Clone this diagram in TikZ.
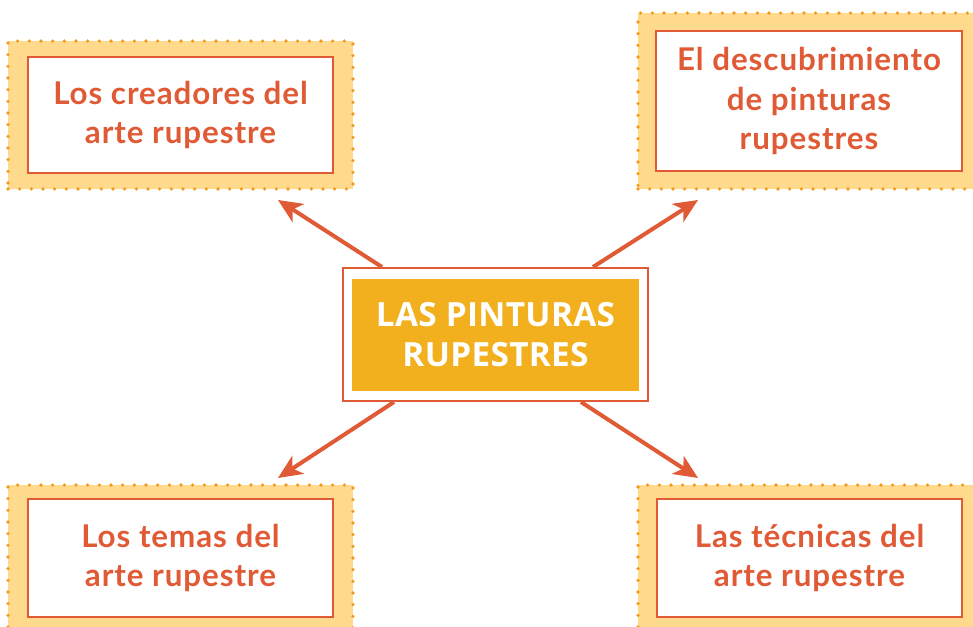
\documentclass[tikz,border=0pt]{standalone}
\usepackage{fontspec}
\setmainfont{Lato}[LetterSpace=3]
\newfontfamily\titlefont{Open Sans}[LetterSpace=1]
\usetikzlibrary{arrows.meta,calc}

\definecolor{rojo}{HTML}{E05A35}
\definecolor{crema}{HTML}{FFD98C}
\definecolor{puntos}{HTML}{F39A1E}
\definecolor{mostaza}{HTML}{F2B01E}

\tikzset{
  marco/.style={fill=crema, draw=puntos, line width=2.7pt, dash pattern=on 0pt off 8.75pt,
    line cap=round, minimum width=258.75pt, minimum height=111pt, inner sep=0pt},
  tema/.style={fill=white, draw=rojo, line width=2pt, minimum width=228.75pt, minimum height=87pt,
    align=center, text=rojo, font=\bfseries\fontsize{23.5}{29.5}\selectfont},
  flecha/.style={draw=rojo, line width=3pt, -{Stealth[length=18pt,width=16pt,inset=5pt]}}
}

\begin{document}
\begin{tikzpicture}[x=0.75pt,y=-0.75pt]
  \useasboundingbox (0,0) rectangle (973,627);
  \clip (0,0) rectangle (973,627);
  % fondos punteados
  \node[marco] (m1) at (180.5,115) {};
  \node[marco, minimum height=132pt] (m2) at (810.5,101) {};
  \node[marco] (m3) at (180.5,559) {};
  \node[marco] (m4) at (810.5,559) {};
  % cajas
  \node[tema] (creadores) at (180.5,115) {Los creadores del\\arte rupestre};
  \node[tema, minimum width=229.5pt, minimum height=105pt] (descubrimiento) at (809,101) {El descubrimiento\\de pinturas\\rupestres};
  \node[tema, minimum height=88.5pt] (temas) at (180.5,558) {Los temas del\\arte rupestre};
  \node[tema, minimum height=88.5pt] (tecnicas) at (809.5,558) {Las técnicas del\\arte rupestre};
  % flechas
  \coordinate (p1) at (278,200);
  \coordinate (p2) at (698,200);
  \coordinate (p3) at (278,478);
  \coordinate (p4) at (698,478);
  \node[draw=rojo, fill=white, line width=1.5pt, minimum width=228.75pt, minimum height=99.75pt] (centro) at (495.5,334.5) {};
  \draw[flecha] ($(centro.north west)+(40,0)$) -- (p1);
  \draw[flecha] ($(centro.north east)+(-56,0)$) -- (p2);
  \draw[flecha] ($(centro.south west)+(52,0)$) -- (p3);
  \draw[flecha] ($(centro.south east)+(-68,0)$) -- (p4);
  % centro
  \node[fill=mostaza, minimum width=215.25pt, minimum height=84pt, text=white, align=center,
    font=\titlefont\bfseries\fontsize{25}{30}\selectfont] (titulo) at (495.5,335) {LAS PINTURAS\\RUPESTRES};
\end{tikzpicture}
\end{document}
